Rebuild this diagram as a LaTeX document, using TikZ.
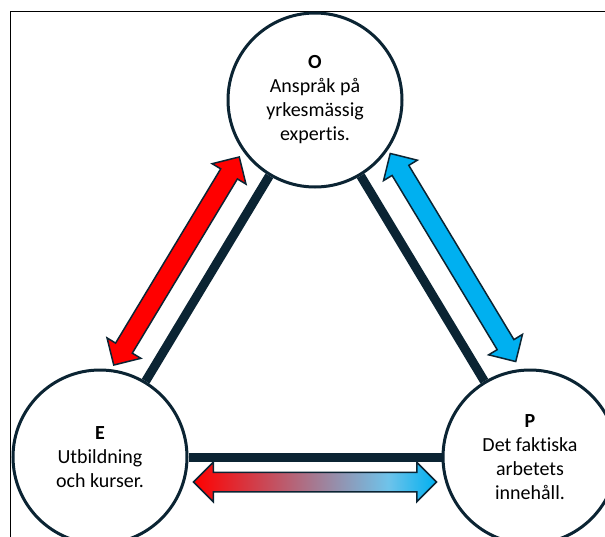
\documentclass[tikz,border=0pt]{standalone}
\usepackage{fontspec}
\setmainfont[Ligatures=NoCommon]{Carlito}
\usepackage{tikz}
\usetikzlibrary{shapes.arrows}
\usetikzlibrary{positioning}
\usepackage{xcolor}
\definecolor{linenavy}{HTML}{0B2433}
\definecolor{arrowred}{HTML}{FF0000}
\definecolor{arrowblue}{HTML}{00B0F0}
\definecolor{paleblue}{HTML}{6FC3EA}
\pgfdeclarehorizontalshading{redblue}{100bp}{color(0bp)=(arrowred); color(25bp)=(arrowred); color(65bp)=(paleblue); color(75bp)=(arrowblue); color(100bp)=(arrowblue)}

\begin{document}
\begin{tikzpicture}[x=1pt, y=-1pt,
    topic/.style={draw=linenavy, line width=3pt, circle, fill=white, minimum size=174pt, inner sep=0pt, align=center, font=\fontsize{20}{24}\selectfont},
    link/.style={draw=linenavy, line width=9pt},
    dblarrow/.style={double arrow, draw=linenavy, line width=1.5pt, minimum height=243pt, minimum width=38pt, double arrow head extend=10pt, double arrow tip angle=90, inner xsep=0pt, inner ysep=9pt}]
       \clip (0,0) rectangle (605,536);
       \draw[line width=1.5pt] (10.5,11.5) rectangle (650,600);

       % the three corners
       \node[topic] (O) at (315,100) {\textbf{O}\\Anspråk på\\yrkesmässig\\expertis.};
       \node[topic] (E) at (100,457) {\textbf{E}\\Utbildning\\och kurser.};
       \node[topic] (P) at (530,457) {\textbf{P}\\Det faktiska\\arbetets\\innehåll.};

       \draw[link] (O) -- (E);
       \draw[link] (O) -- (P);
       \draw[link] (E) -- (P);

       % double arrows beside the links
       \node[dblarrow, fill=arrowred, rotate=58.9] (oe) at (176.5,261) {};
       \node[dblarrow, fill=arrowblue, rotate=-58.9] (op) at (453,257.5) {};
       \node[dblarrow, shade, shading=redblue] (ep) at (315,482) {};
\end{tikzpicture}
\end{document}
